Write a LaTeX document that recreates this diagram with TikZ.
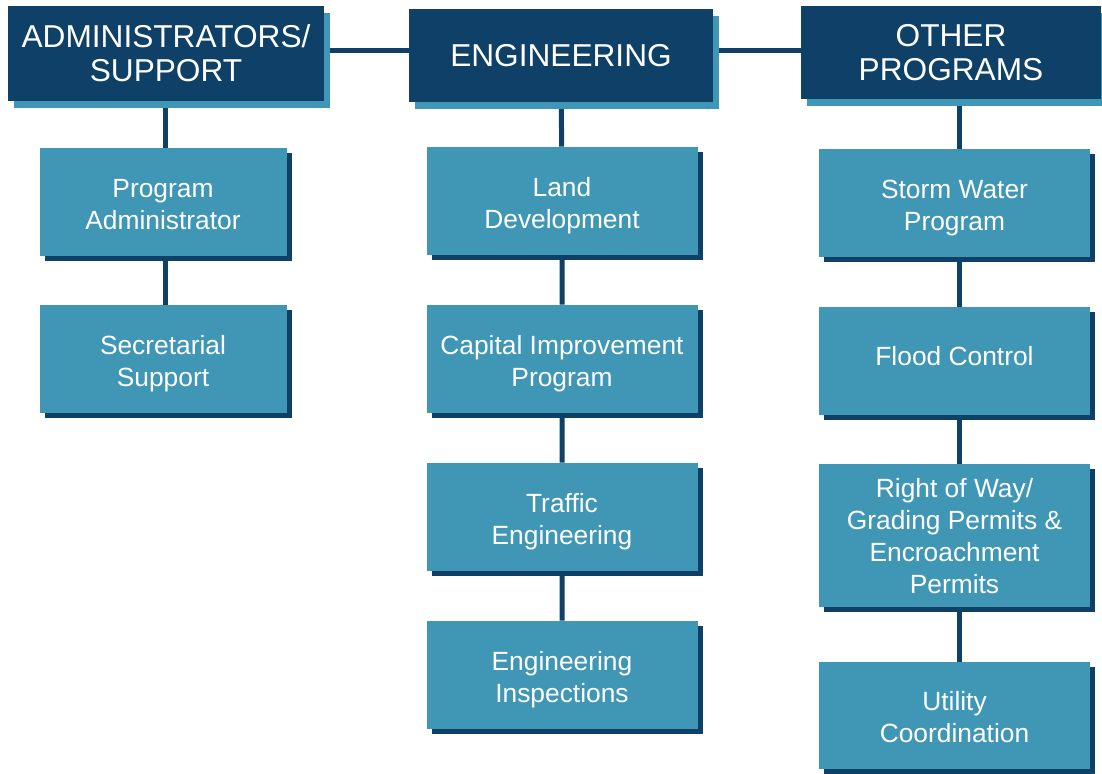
\documentclass[tikz,border=0pt]{standalone}
\usepackage{fontspec}
\setmainfont{Liberation Sans}
\usepackage{tikz}
\usetikzlibrary{shadows, backgrounds}
\definecolor{navy}{RGB}{14,64,104}
\definecolor{steel}{RGB}{64,150,181}
\tikzstyle{header} = [rectangle, minimum height=1.86cm, inner sep=0pt, text centered, align=center, text=white, fill=navy, font=\fontsize{18}{19.5}\selectfont, drop shadow={shadow xshift=0.12cm, shadow yshift=-0.14cm, fill=steel, opacity=1}]
\tikzstyle{unit} = [rectangle, minimum width=5.42cm, minimum height=2.16cm, inner sep=0pt, text centered, align=center, text=white, fill=steel, font=\fontsize{15}{18.2}\selectfont, text height=31.2pt, text depth=0pt, drop shadow={shadow xshift=0.1cm, shadow yshift=-0.1cm, fill=navy, opacity=1}]
\tikzstyle{link} = [draw=navy, line width=0.1cm]

\begin{document}
\begin{tikzpicture}[node distance=3.16cm]
\useasboundingbox (0,0) rectangle (22.04,-15.46);

% Headers
\node (admin) [header, minimum width=6.32cm, minimum height=1.9cm] at (3.32,-1.07) {ADMINISTRATORS/\\SUPPORT};
\node (engin) [header, minimum width=6.08cm] at (11.22,-1.11) {ENGINEERING};
\node (other) [header, minimum width=6.0cm] at (19.02,-1.05) {OTHER\\PROGRAMS};

% Administrators / support
\node (progadmin) [unit, minimum width=4.94cm, below of=admin, xshift=-0.06cm, yshift=0.19cm] {Program\\Administrator};
\node (secretary) [unit, minimum width=4.94cm, below of=progadmin, yshift=0.02cm] {Secretarial\\Support};

% Engineering
\node (landdev) [unit, below of=engin, xshift=0.02cm, yshift=0.25cm] {Land\\Development};
\node (capital) [unit, below of=landdev] {Capital Improvement\\Program};
\node (traffic) [unit, below of=capital] {Traffic\\Engineering};
\node (inspect) [unit, below of=traffic] {Engineering\\Inspections};

% Other programs
\node (storm) [unit, below of=other, xshift=0.07cm, yshift=0.15cm] {Storm Water\\Program};
\node (flood) [unit, below of=storm, text height=5.6pt] {Flood Control};
\node (rightofway) [unit, minimum height=2.86cm, text height=65.8pt, below of=flood, yshift=-0.33cm] {Right of Way/\\Grading Permits \&\\Encroachment\\Permits};
\node (utility) [unit, minimum height=2.14cm, below of=rightofway, yshift=-0.44cm] {Utility\\Coordination};

\begin{scope}[on background layer]
\draw [link] ([yshift=0.06cm]admin.east) -- ([yshift=0.06cm]admin.east -| engin.west);
\draw [link] ([yshift=0.06cm]admin.east -| engin.east) -- ([yshift=0.06cm]admin.east -| other.west);
\draw [link] ([xshift=0.04cm]progadmin.center |- admin.center) -- ([xshift=0.04cm]secretary.center);
\draw [link] (engin) -- (landdev) -- (capital) -- (traffic) -- (inspect);
\draw [link] ([xshift=0.16cm]other.center) -- ([xshift=0.09cm]utility.center);
\end{scope}

\end{tikzpicture}
\end{document}
